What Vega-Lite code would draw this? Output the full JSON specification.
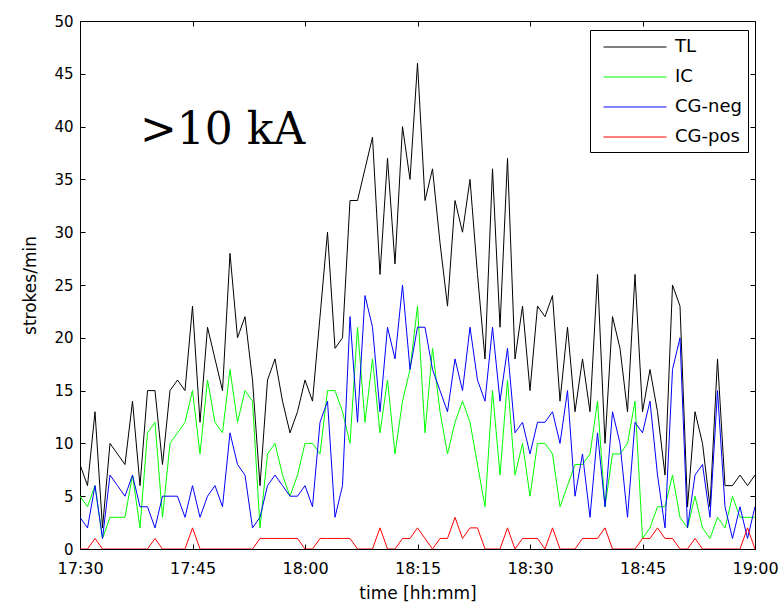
{
  "$schema": "https://vega.github.io/schema/vega-lite/v6.json",
  "width": 675,
  "height": 528,
  "autosize": "none",
  "padding": {"left": 80, "top": 21, "right": 28, "bottom": 57},
  "background": "white",
  "config": {
    "view": {"stroke": "black", "strokeWidth": 1},
    "font": "DejaVu Sans",
    "axis": {
      "grid": false,
      "domain": false,
      "ticks": true,
      "offset": -5,
      "tickSize": 5,
      "tickColor": "black",
      "tickWidth": 1,
      "labelColor": "black",
      "labelFontSize": 16,
      "labelFont": "DejaVu Sans",
      "labelFlush": false,
      "labelOverlap": false,
      "titleFont": "DejaVu Sans",
      "titleFontSize": 17,
      "titleFontWeight": "normal",
      "titleColor": "black",
      "zindex": 1
    }
  },
  "datasets": {
    "strokes": [
      {"m": 0, "TL": 8, "IC": 5, "CG-neg": 3, "CG-pos": 0},
      {"m": 1, "TL": 6, "IC": 4, "CG-neg": 2, "CG-pos": 0},
      {"m": 2, "TL": 13, "IC": 6, "CG-neg": 6, "CG-pos": 1},
      {"m": 3, "TL": 2, "IC": 1, "CG-neg": 1, "CG-pos": 0},
      {"m": 4, "TL": 10, "IC": 3, "CG-neg": 7, "CG-pos": 0},
      {"m": 5, "TL": 9, "IC": 3, "CG-neg": 6, "CG-pos": 0},
      {"m": 6, "TL": 8, "IC": 3, "CG-neg": 5, "CG-pos": 0},
      {"m": 7, "TL": 14, "IC": 7, "CG-neg": 7, "CG-pos": 0},
      {"m": 8, "TL": 6, "IC": 2, "CG-neg": 4, "CG-pos": 0},
      {"m": 9, "TL": 15, "IC": 11, "CG-neg": 4, "CG-pos": 0},
      {"m": 10, "TL": 15, "IC": 12, "CG-neg": 2, "CG-pos": 1},
      {"m": 11, "TL": 8, "IC": 3, "CG-neg": 5, "CG-pos": 0},
      {"m": 12, "TL": 15, "IC": 10, "CG-neg": 5, "CG-pos": 0},
      {"m": 13, "TL": 16, "IC": 11, "CG-neg": 5, "CG-pos": 0},
      {"m": 14, "TL": 15, "IC": 12, "CG-neg": 3, "CG-pos": 0},
      {"m": 15, "TL": 23, "IC": 15, "CG-neg": 6, "CG-pos": 2},
      {"m": 16, "TL": 12, "IC": 9, "CG-neg": 3, "CG-pos": 0},
      {"m": 17, "TL": 21, "IC": 16, "CG-neg": 5, "CG-pos": 0},
      {"m": 18, "TL": 18, "IC": 12, "CG-neg": 6, "CG-pos": 0},
      {"m": 19, "TL": 15, "IC": 11, "CG-neg": 4, "CG-pos": 0},
      {"m": 20, "TL": 28, "IC": 17, "CG-neg": 11, "CG-pos": 0},
      {"m": 21, "TL": 20, "IC": 12, "CG-neg": 8, "CG-pos": 0},
      {"m": 22, "TL": 22, "IC": 15, "CG-neg": 7, "CG-pos": 0},
      {"m": 23, "TL": 16, "IC": 14, "CG-neg": 2, "CG-pos": 0},
      {"m": 24, "TL": 6, "IC": 2, "CG-neg": 3, "CG-pos": 1},
      {"m": 25, "TL": 16, "IC": 9, "CG-neg": 6, "CG-pos": 1},
      {"m": 26, "TL": 18, "IC": 10, "CG-neg": 7, "CG-pos": 1},
      {"m": 27, "TL": 14, "IC": 7, "CG-neg": 6, "CG-pos": 1},
      {"m": 28, "TL": 11, "IC": 5, "CG-neg": 5, "CG-pos": 1},
      {"m": 29, "TL": 13, "IC": 7, "CG-neg": 5, "CG-pos": 1},
      {"m": 30, "TL": 16, "IC": 10, "CG-neg": 6, "CG-pos": 0},
      {"m": 31, "TL": 14, "IC": 10, "CG-neg": 4, "CG-pos": 0},
      {"m": 32, "TL": 22, "IC": 9, "CG-neg": 12, "CG-pos": 1},
      {"m": 33, "TL": 30, "IC": 15, "CG-neg": 14, "CG-pos": 1},
      {"m": 34, "TL": 19, "IC": 15, "CG-neg": 3, "CG-pos": 1},
      {"m": 35, "TL": 20, "IC": 13, "CG-neg": 6, "CG-pos": 1},
      {"m": 36, "TL": 33, "IC": 10, "CG-neg": 22, "CG-pos": 1},
      {"m": 37, "TL": 33, "IC": 21, "CG-neg": 12, "CG-pos": 0},
      {"m": 38, "TL": 36, "IC": 12, "CG-neg": 24, "CG-pos": 0},
      {"m": 39, "TL": 39, "IC": 18, "CG-neg": 21, "CG-pos": 0},
      {"m": 40, "TL": 26, "IC": 11, "CG-neg": 13, "CG-pos": 2},
      {"m": 41, "TL": 37, "IC": 16, "CG-neg": 21, "CG-pos": 0},
      {"m": 42, "TL": 27, "IC": 9, "CG-neg": 18, "CG-pos": 0},
      {"m": 43, "TL": 40, "IC": 14, "CG-neg": 25, "CG-pos": 1},
      {"m": 44, "TL": 35, "IC": 17, "CG-neg": 17, "CG-pos": 1},
      {"m": 45, "TL": 46, "IC": 23, "CG-neg": 21, "CG-pos": 2},
      {"m": 46, "TL": 33, "IC": 11, "CG-neg": 21, "CG-pos": 1},
      {"m": 47, "TL": 36, "IC": 19, "CG-neg": 17, "CG-pos": 0},
      {"m": 48, "TL": 29, "IC": 13, "CG-neg": 15, "CG-pos": 1},
      {"m": 49, "TL": 23, "IC": 9, "CG-neg": 13, "CG-pos": 1},
      {"m": 50, "TL": 33, "IC": 12, "CG-neg": 18, "CG-pos": 3},
      {"m": 51, "TL": 30, "IC": 14, "CG-neg": 15, "CG-pos": 1},
      {"m": 52, "TL": 35, "IC": 12, "CG-neg": 21, "CG-pos": 2},
      {"m": 53, "TL": 26, "IC": 8, "CG-neg": 16, "CG-pos": 2},
      {"m": 54, "TL": 18, "IC": 4, "CG-neg": 14, "CG-pos": 0},
      {"m": 55, "TL": 36, "IC": 15, "CG-neg": 21, "CG-pos": 0},
      {"m": 56, "TL": 21, "IC": 7, "CG-neg": 14, "CG-pos": 0},
      {"m": 57, "TL": 37, "IC": 16, "CG-neg": 19, "CG-pos": 2},
      {"m": 58, "TL": 18, "IC": 7, "CG-neg": 11, "CG-pos": 0},
      {"m": 59, "TL": 23, "IC": 10, "CG-neg": 12, "CG-pos": 1},
      {"m": 60, "TL": 15, "IC": 5, "CG-neg": 9, "CG-pos": 1},
      {"m": 61, "TL": 23, "IC": 10, "CG-neg": 12, "CG-pos": 1},
      {"m": 62, "TL": 22, "IC": 10, "CG-neg": 12, "CG-pos": 0},
      {"m": 63, "TL": 24, "IC": 9, "CG-neg": 13, "CG-pos": 2},
      {"m": 64, "TL": 14, "IC": 4, "CG-neg": 10, "CG-pos": 0},
      {"m": 65, "TL": 21, "IC": 6, "CG-neg": 15, "CG-pos": 0},
      {"m": 66, "TL": 13, "IC": 8, "CG-neg": 5, "CG-pos": 0},
      {"m": 67, "TL": 18, "IC": 8, "CG-neg": 9, "CG-pos": 1},
      {"m": 68, "TL": 13, "IC": 9, "CG-neg": 3, "CG-pos": 1},
      {"m": 69, "TL": 26, "IC": 14, "CG-neg": 11, "CG-pos": 1},
      {"m": 70, "TL": 10, "IC": 4, "CG-neg": 4, "CG-pos": 2},
      {"m": 71, "TL": 22, "IC": 9, "CG-neg": 13, "CG-pos": 0},
      {"m": 72, "TL": 19, "IC": 9, "CG-neg": 10, "CG-pos": 0},
      {"m": 73, "TL": 13, "IC": 10, "CG-neg": 3, "CG-pos": 0},
      {"m": 74, "TL": 26, "IC": 14, "CG-neg": 12, "CG-pos": 0},
      {"m": 75, "TL": 13, "IC": 1, "CG-neg": 11, "CG-pos": 1},
      {"m": 76, "TL": 17, "IC": 2, "CG-neg": 14, "CG-pos": 1},
      {"m": 77, "TL": 13, "IC": 4, "CG-neg": 7, "CG-pos": 2},
      {"m": 78, "TL": 7, "IC": 4, "CG-neg": 2, "CG-pos": 1},
      {"m": 79, "TL": 25, "IC": 7, "CG-neg": 17, "CG-pos": 1},
      {"m": 80, "TL": 23, "IC": 3, "CG-neg": 20, "CG-pos": 0},
      {"m": 81, "TL": 4, "IC": 2, "CG-neg": 2, "CG-pos": 0},
      {"m": 82, "TL": 13, "IC": 5, "CG-neg": 7, "CG-pos": 1},
      {"m": 83, "TL": 10, "IC": 2, "CG-neg": 8, "CG-pos": 0},
      {"m": 84, "TL": 4, "IC": 1, "CG-neg": 3, "CG-pos": 0},
      {"m": 85, "TL": 18, "IC": 3, "CG-neg": 15, "CG-pos": 0},
      {"m": 86, "TL": 6, "IC": 2, "CG-neg": 4, "CG-pos": 0},
      {"m": 87, "TL": 6, "IC": 5, "CG-neg": 1, "CG-pos": 0},
      {"m": 88, "TL": 7, "IC": 3, "CG-neg": 4, "CG-pos": 0},
      {"m": 89, "TL": 6, "IC": 3, "CG-neg": 1, "CG-pos": 2},
      {"m": 90, "TL": 7, "IC": 3, "CG-neg": 4, "CG-pos": 0}
    ],
    "note": [{"label": ">10 kA", "m": 8, "v": 39.6}]
  },
  "layer": [
    {
      "data": {"name": "strokes"},
      "transform": [{"fold": ["TL", "IC", "CG-neg", "CG-pos"], "as": ["series", "value"]}],
      "mark": {"type": "line", "strokeWidth": 1, "clip": true},
      "encoding": {
        "x": {
          "field": "m",
          "type": "quantitative",
          "scale": {"domain": [0, 90], "nice": false},
          "axis": {
            "orient": "bottom",
            "values": [0, 15, 30, 45, 60, 75, 90],
            "labelExpr": "['17:30','17:45','18:00','18:15','18:30','18:45','19:00'][round(datum.value/15)]",
            "labelPadding": 11,
            "title": "time [hh:mm]",
            "titlePadding": 9
          }
        },
        "y": {
          "field": "value",
          "type": "quantitative",
          "scale": {"domain": [0, 50], "nice": false},
          "axis": {
            "orient": "left",
            "values": [0, 5, 10, 15, 20, 25, 30, 35, 40, 45, 50],
            "labelFontSize": 15,
            "labelPadding": 7,
            "title": "strokes/min",
            "titlePadding": 14
          }
        },
        "color": {
          "field": "series",
          "type": "nominal",
          "sort": ["TL", "IC", "CG-neg", "CG-pos"],
          "scale": {"domain": ["TL", "IC", "CG-neg", "CG-pos"], "range": ["#000000", "#00ff00", "#0000ff", "#ff0000"]},
          "legend": {
            "title": null,
            "orient": "none",
            "legendX": 510,
            "legendY": 9,
            "strokeColor": "black",
            "fillColor": "white",
            "padding": 6,
            "symbolType": "M-1,0H5",
            "symbolSize": 441,
            "symbolOffset": 7,
            "symbolStrokeWidth": 1,
            "labelFontSize": 18,
            "labelFont": "DejaVu Sans",
            "labelColor": "black",
            "labelOffset": 50,
            "rowPadding": 10
          }
        }
      }
    },
    {
      "data": {"name": "note"},
      "mark": {"type": "text", "font": "DejaVu Serif", "fontSize": 44, "align": "left", "baseline": "middle", "color": "black"},
      "encoding": {
        "x": {"field": "m", "type": "quantitative", "axis": {"orient": "top", "values": [0, 15, 30, 45, 60, 75, 90], "labels": false, "title": null}},
        "y": {"field": "v", "type": "quantitative", "axis": {"orient": "right", "values": [0, 5, 10, 15, 20, 25, 30, 35, 40, 45, 50], "labels": false, "title": null}},
        "text": {"field": "label"}
      }
    }
  ],
  "resolve": {"axis": {"x": "independent", "y": "independent"}}
}
